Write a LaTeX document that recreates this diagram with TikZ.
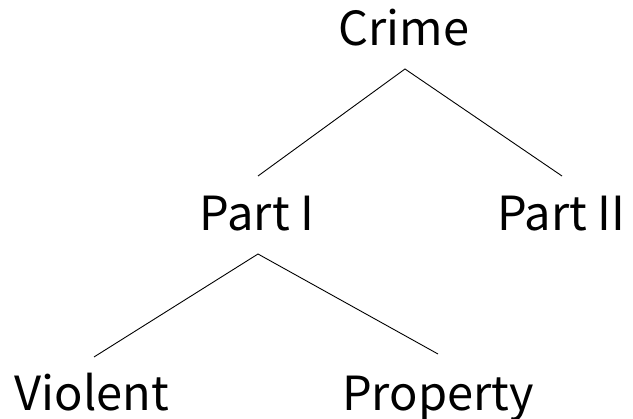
\documentclass[tikz,border=0pt]{standalone}
\usepackage{fontspec}
\setmainfont{Noto Sans CJK JP}
\begin{document}
\begin{tikzpicture}[x=1pt,y=-1pt,
  lbl/.style={anchor=base,font=\fontsize{47}{50}\selectfont,inner xsep=0pt,inner ysep=0pt},
  link/.style={line width=0.9pt,black}]
\useasboundingbox (0,0) rectangle (633,419);
\node[lbl] (crime) at (404,46) {Crime};
\node[lbl] (p1) at (257,231) {Part I};
\node[lbl] (p2) at (561,231) {Part II};
\node[lbl] (vio) at (92,411) {Violent};
\node[lbl] (prop) at (438,411) {Property};
\coordinate (crimeB) at (405,69);
\coordinate (p1T) at (258,176);
\coordinate (p2T) at (562,176);
\coordinate (p1B) at (258,254);
\coordinate (vioT) at (94,357);
\coordinate (propT) at (438,354);
\draw[link] (p1T) -- (crimeB) -- (p2T);
\draw[link] (vioT) -- (p1B) -- (propT);
\end{tikzpicture}
\end{document}
